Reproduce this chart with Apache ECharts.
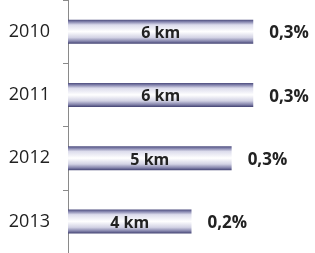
<!DOCTYPE html>
<html>
<head>
<meta charset="utf-8">
<script src="https://cdn.jsdelivr.net/npm/echarts@6/dist/echarts.min.js"></script>
<style>
  html, body { margin: 0; padding: 0; background: #fff; }
  #chart { width: 315px; height: 253px; }
</style>
</head>
<body>
<div id="chart"></div>
<script>
// Data
const years = ['2010', '2011', '2012', '2013'];
const km = [6.0, 6.0, 5.3, 4.0];
const kmLabels = ['6 km', '6 km', '5 km', '4 km'];
const shares = ['0,3%', '0,3%', '0,3%', '0,2%'];

const chart = echarts.init(document.getElementById('chart'));

// bar look: dark edges, light middle
const barFill = new echarts.graphic.LinearGradient(0, 0, 0, 1, [
    { offset: 0, color: '#48487a' },
    { offset: 0.1, color: '#8a8ab2' },
    { offset: 0.22, color: '#dcdcec' },
    { offset: 0.5, color: '#ffffff' },
    { offset: 0.75, color: '#d2d2e4' },
    { offset: 0.9, color: '#8686ad' },
    { offset: 1, color: '#444474' }
]);

chart.setOption({
    animation: false,
    grid: { left: 68, right: 0, top: 0, bottom: 0 },
    xAxis: {
        type: 'value',
        min: 0,
        max: 8,
        show: false
    },
    yAxis: {
        type: 'category',
        data: years,
        inverse: true,
        axisLine: { show: true, lineStyle: { color: '#8a8a8a', width: 1 } },
        axisTick: { show: true, length: 5, lineStyle: { color: '#8a8a8a' } },
        axisLabel: {
            margin: 18,
            color: '#222',
            fontSize: 18,
            fontFamily: 'Open Sans'
        }
    },
    series: [
        {
            type: 'bar',
            data: km,
            barWidth: 24,
            itemStyle: { color: barFill },
            label: {
                show: true,
                position: 'inside',
                offset: [0, 2],
                formatter: p => kmLabels[p.dataIndex],
                color: '#222',
                fontSize: 16,
                fontWeight: 'bold',
                fontFamily: 'Open Sans'
            }
        },
        {
            type: 'bar',
            data: km,
            barWidth: 24,
            barGap: '-100%',
            itemStyle: { color: 'rgba(0,0,0,0)' },
            silent: true,
            label: {
                show: true,
                position: 'right',
                distance: 16,
                offset: [0, 2],
                formatter: p => shares[p.dataIndex],
                color: '#222',
                fontSize: 17,
                fontWeight: 'bold',
                fontFamily: 'Open Sans'
            }
        }
    ]
});
</script>
</body>
</html>
